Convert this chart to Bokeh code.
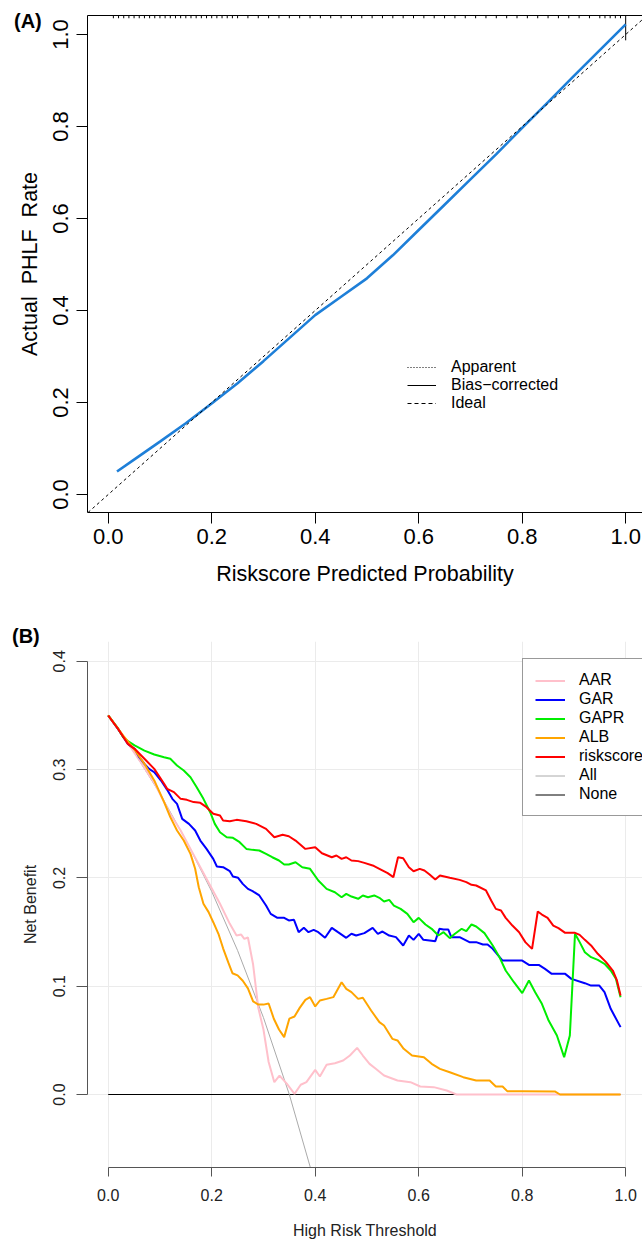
from bokeh.plotting import figure
from bokeh.layouts import column
from bokeh.models import (Range1d, FixedTicker, PrintfTickFormatter, LinearAxis,
                          Legend, LegendItem, Slope, Div)
from bokeh.embed import file_html
from bokeh.resources import INLINE

FONT = "Liberation Sans"
NAN = float("nan")

# ---------------- Panel A data ----------------
cal_x = [0.017, 0.05, 0.1, 0.15, 0.2, 0.25, 0.3, 0.35, 0.4, 0.45, 0.5, 0.55, 0.6, 0.65, 0.7,
         0.75, 0.8, 0.85, 0.9, 0.95, 1.0]
cal_y = [0.05, 0.076, 0.115, 0.155, 0.198, 0.242, 0.29, 0.34, 0.39, 0.43, 0.47, 0.52, 0.575,
         0.63, 0.685, 0.74, 0.797, 0.853, 0.91, 0.966, 1.022]
rug_x = [0.01, 0.02, 0.03, 0.04, 0.05, 0.06, 0.07, 0.08, 0.09, 0.10, 0.11, 0.12, 0.13, 0.14,
         0.15, 0.16, 0.17, 0.18, 0.19, 0.20, 0.21, 0.22, 0.23, 0.24, 0.25, 0.27, 0.29, 0.31,
         0.33, 0.35, 0.37, 0.39, 0.41, 0.43, 0.45, 0.47, 0.49, 0.51, 0.53, 0.55, 0.57, 0.59,
         0.61, 0.63, 0.65, 0.67, 0.69, 0.71, 0.73, 0.75, 0.77, 0.79, 0.81, 0.83, 0.85, 0.87,
         0.89, 0.91, 0.93, 0.95, 0.96, 0.97, 0.98, 0.99, 1.0]
rug_h = [0.006, 0.006, 0.006, 0.006, 0.006, 0.006, 0.006, 0.006, 0.006, 0.006, 0.006, 0.006,
         0.006, 0.006, 0.006, 0.006, 0.006, 0.006, 0.006, 0.006, 0.006, 0.006, 0.006, 0.006,
         0.006, 0.006, 0.006, 0.006, 0.006, 0.006, 0.006, 0.006, 0.006, 0.006, 0.006, 0.006,
         0.006, 0.006, 0.006, 0.006, 0.006, 0.006, 0.006, 0.006, 0.006, 0.006, 0.006, 0.006,
         0.006, 0.006, 0.006, 0.006, 0.006, 0.006, 0.006, 0.006, 0.006, 0.006, 0.006, 0.006,
         0.006, 0.006, 0.006, 0.006, 0.054]
ticks_A = [0.0, 0.2, 0.4, 0.6, 0.8, 1.0]
legend_A = ["Apparent", "Bias\u2212corrected", "Ideal"]

# ---------------- Panel B data (threshold, net benefit) ----------------
AAR = [(0, 0.35), (0.03, 0.33), (0.06, 0.309), (0.09, 0.287), (0.12, 0.259), (0.14, 0.2438),
       (0.159, 0.2268), (0.178, 0.2099), (0.197, 0.193), (0.216, 0.1761), (0.235, 0.1576),
       (0.248, 0.1468), (0.257, 0.1477), (0.263, 0.1437), (0.27, 0.145), (0.28, 0.12),
       (0.29, 0.08), (0.3, 0.06), (0.31, 0.03), (0.321, 0.0114), (0.331, 0.0175), (0.345, 0.01),
       (0.36, 0.0006), (0.372, 0.009), (0.383, 0.0114), (0.4, 0.0228), (0.409, 0.0166),
       (0.422, 0.0274), (0.438, 0.0289), (0.454, 0.0314), (0.467, 0.036), (0.481, 0.0431),
       (0.492, 0.036), (0.505, 0.0283), (0.517, 0.0237), (0.533, 0.0175), (0.559, 0.0129),
       (0.584, 0.0114), (0.603, 0.0074), (0.629, 0.0068), (0.654, 0.0037), (0.673, 0.0),
       (0.99, 0.0)]
GAR = [(0, 0.35), (0.019, 0.3376), (0.038, 0.3238), (0.051, 0.3192), (0.06, 0.3115),
       (0.07, 0.3053), (0.079, 0.3007), (0.089, 0.2976), (0.102, 0.2899), (0.114, 0.2813),
       (0.124, 0.273), (0.133, 0.2684), (0.143, 0.2545), (0.156, 0.2499), (0.168, 0.2438),
       (0.178, 0.2345), (0.19, 0.2268), (0.203, 0.2176), (0.21, 0.2105), (0.222, 0.2099),
       (0.235, 0.2062), (0.241, 0.2013), (0.251, 0.2001), (0.26, 0.1945), (0.27, 0.1899),
       (0.279, 0.1878), (0.292, 0.1838), (0.305, 0.1745), (0.314, 0.1668), (0.327, 0.1631),
       (0.34, 0.1631), (0.349, 0.1607), (0.359, 0.1613), (0.368, 0.1499), (0.378, 0.1539),
       (0.387, 0.1499), (0.397, 0.152), (0.406, 0.1499), (0.419, 0.1447), (0.432, 0.1539),
       (0.444, 0.1499), (0.46, 0.1447), (0.47, 0.1484), (0.479, 0.1468), (0.495, 0.149),
       (0.511, 0.1539), (0.521, 0.1484), (0.53, 0.1505), (0.543, 0.1468), (0.556, 0.1453),
       (0.57, 0.1376), (0.581, 0.1468), (0.59, 0.1428), (0.6, 0.1484), (0.609, 0.1428),
       (0.621, 0.1422), (0.632, 0.1416), (0.64, 0.153), (0.648, 0.1524), (0.657, 0.1524),
       (0.663, 0.1453), (0.679, 0.1453), (0.698, 0.1407), (0.711, 0.1407), (0.724, 0.1385),
       (0.733, 0.1385), (0.743, 0.1345), (0.762, 0.1237), (0.781, 0.1237), (0.8, 0.1237),
       (0.813, 0.1197), (0.832, 0.1197), (0.844, 0.116), (0.857, 0.1114), (0.883, 0.1114),
       (0.895, 0.1068), (0.921, 0.1028), (0.933, 0.1006), (0.949, 0.1006), (0.959, 0.0945),
       (0.971, 0.0791), (0.99, 0.0622)]
GAPR = [(0, 0.35), (0.019, 0.338), (0.029, 0.3299), (0.038, 0.3263), (0.051, 0.3223),
        (0.07, 0.3176), (0.089, 0.314), (0.108, 0.3115), (0.12, 0.31), (0.133, 0.3038),
        (0.146, 0.2992), (0.159, 0.293), (0.171, 0.2838), (0.184, 0.273), (0.197, 0.2607),
        (0.206, 0.2499), (0.216, 0.2422), (0.229, 0.2376), (0.241, 0.237), (0.254, 0.233),
        (0.267, 0.2268), (0.279, 0.2259), (0.292, 0.2253), (0.305, 0.2222), (0.317, 0.2191),
        (0.33, 0.2161), (0.34, 0.2124), (0.349, 0.2124), (0.362, 0.2145), (0.375, 0.2099),
        (0.39, 0.2084), (0.406, 0.1976), (0.422, 0.1899), (0.438, 0.1868), (0.451, 0.1822),
        (0.46, 0.1853), (0.47, 0.1828), (0.483, 0.1807), (0.492, 0.1838), (0.502, 0.1822),
        (0.514, 0.1838), (0.524, 0.1816), (0.533, 0.1782), (0.543, 0.1797), (0.552, 0.1745),
        (0.565, 0.1714), (0.578, 0.1668), (0.59, 0.1591), (0.6, 0.1631), (0.613, 0.157),
        (0.625, 0.153), (0.638, 0.1468), (0.648, 0.1499), (0.66, 0.1444), (0.67, 0.1484),
        (0.683, 0.153), (0.692, 0.1508), (0.702, 0.157), (0.711, 0.1551), (0.727, 0.149),
        (0.743, 0.1376), (0.756, 0.1268), (0.768, 0.1145), (0.784, 0.1037), (0.8, 0.0936),
        (0.813, 0.1053), (0.825, 0.0945), (0.838, 0.0837), (0.851, 0.0683), (0.867, 0.0545),
        (0.881, 0.0345), (0.892, 0.0545), (0.902, 0.1484), (0.911, 0.1407), (0.921, 0.1314),
        (0.933, 0.1268), (0.946, 0.1243), (0.959, 0.1207), (0.971, 0.1145), (0.981, 0.1068),
        (0.99, 0.0899)]
ALB = [(0, 0.35), (0.029, 0.3315), (0.051, 0.3183), (0.07, 0.3053), (0.089, 0.29),
       (0.108, 0.27), (0.12, 0.2561), (0.133, 0.2438), (0.146, 0.2345), (0.159, 0.2222),
       (0.168, 0.2084), (0.175, 0.1914), (0.184, 0.1761), (0.194, 0.1684), (0.203, 0.1591),
       (0.213, 0.1484), (0.222, 0.135), (0.232, 0.122), (0.24, 0.112), (0.25, 0.11),
       (0.26, 0.105), (0.27, 0.098), (0.28, 0.086), (0.29, 0.083), (0.3, 0.083), (0.31, 0.084),
       (0.32, 0.07), (0.33, 0.06), (0.34, 0.053), (0.35, 0.07), (0.36, 0.072), (0.37, 0.08),
       (0.381, 0.0874), (0.39, 0.0899), (0.4, 0.0813), (0.409, 0.0868), (0.422, 0.0883),
       (0.435, 0.0899), (0.451, 0.1037), (0.46, 0.0976), (0.47, 0.0945), (0.483, 0.0883),
       (0.492, 0.0893), (0.508, 0.0776), (0.524, 0.0668), (0.533, 0.0637), (0.549, 0.0514),
       (0.559, 0.0499), (0.571, 0.0422), (0.587, 0.036), (0.61, 0.0345), (0.625, 0.0283),
       (0.641, 0.0237), (0.66, 0.0206), (0.686, 0.016), (0.711, 0.0129), (0.737, 0.0129),
       (0.749, 0.0074), (0.762, 0.0074), (0.771, 0.0031), (0.8, 0.0031), (0.863, 0.0028),
       (0.873, 0.0), (0.99, 0.0)]
riskscore = [(0, 0.35), (0.019, 0.3376), (0.038, 0.3238), (0.051, 0.3192), (0.07, 0.31),
             (0.089, 0.3007), (0.108, 0.2869), (0.114, 0.2822), (0.127, 0.2792), (0.14, 0.273),
             (0.152, 0.2721), (0.165, 0.27), (0.178, 0.2693), (0.19, 0.2653), (0.203, 0.2592),
             (0.216, 0.2576), (0.222, 0.253), (0.235, 0.2524), (0.248, 0.2536), (0.267, 0.2524),
             (0.286, 0.2499), (0.305, 0.2453), (0.321, 0.2376), (0.337, 0.2398), (0.349, 0.2385),
             (0.362, 0.2345), (0.381, 0.2268), (0.40, 0.2284), (0.413, 0.2228), (0.432, 0.2191),
             (0.441, 0.2207), (0.451, 0.2176), (0.46, 0.2191), (0.47, 0.2161), (0.483, 0.2155),
             (0.495, 0.2139), (0.511, 0.2115), (0.524, 0.2084), (0.54, 0.2044), (0.551, 0.2007),
             (0.56, 0.2191), (0.57, 0.2182), (0.581, 0.2099), (0.59, 0.2062), (0.602, 0.2084),
             (0.611, 0.2068), (0.621, 0.2031), (0.632, 0.1985), (0.641, 0.2022), (0.66, 0.2001),
             (0.679, 0.1982), (0.692, 0.1961), (0.702, 0.1936), (0.711, 0.193), (0.73, 0.1884),
             (0.74, 0.1791), (0.749, 0.1714), (0.759, 0.1699), (0.768, 0.1631), (0.781, 0.156),
             (0.794, 0.1499), (0.806, 0.1407), (0.819, 0.1345), (0.83, 0.169), (0.838, 0.1662),
             (0.849, 0.1631), (0.86, 0.156), (0.87, 0.1536), (0.883, 0.1493), (0.902, 0.1493),
             (0.911, 0.1474), (0.921, 0.1428), (0.933, 0.1376), (0.946, 0.1299), (0.962, 0.1222),
             (0.975, 0.1145), (0.983, 0.1053), (0.99, 0.0914)]
ALL = [(0, 0.35), (0.05, 0.316), (0.1, 0.278), (0.15, 0.235), (0.2, 0.1875), (0.25, 0.133),
       (0.3, 0.071), (0.35, 0.0), (0.4, -0.083)]
NONE = [(0, 0.0), (0.99, 0.0)]
ticks_Bx = [0.0, 0.2, 0.4, 0.6, 0.8, 1.0]
ticks_By = [0.0, 0.1, 0.2, 0.3, 0.4]
series_B = [("AAR", AAR, "#FFC0CB", 2), ("GAR", GAR, "#0000FF", 2), ("GAPR", GAPR, "#00EE00", 2),
            ("ALB", ALB, "#FFA500", 2), ("riskscore", riskscore, "#FF0000", 2),
            ("All", ALL, "#AAAAAA", 1), ("None", NONE, "#000000", 1)]

# ================= Panel A =================
xa0, xa1, ya0, ya1 = -0.04, 1.0325, -0.039, 1.0413
pA = figure(width=642, height=600, x_range=Range1d(xa0, xa1), y_range=Range1d(ya0, ya1),
            output_backend="svg", toolbar_location=None,
            min_border_left=87, min_border_right=0, min_border_top=15, min_border_bottom=88)
pA.grid.visible = False
pA.outline_line_color = None
pA.background_fill_color = "white"
pA.border_fill_color = "white"

for ax in (pA.xaxis[0], pA.yaxis[0]):
    ax.ticker = FixedTicker(ticks=ticks_A)
    ax.formatter = PrintfTickFormatter(format="%.1f")
    ax.axis_line_color = "black"
    ax.major_tick_line_color = "black"
    ax.major_tick_out = 11
    ax.major_tick_in = 0
    ax.minor_tick_line_color = None
    ax.major_label_text_font = FONT
    ax.major_label_text_font_size = "22px"
    ax.major_label_text_color = "black"
    ax.axis_label_text_font = FONT
    ax.axis_label_text_font_size = "21.5px"
    ax.axis_label_text_font_style = "normal"
    ax.axis_label_text_color = "black"
pA.xaxis.axis_label = "Riskscore Predicted Probability"
pA.xaxis.major_label_standoff = 5
pA.xaxis.axis_label_standoff = 15
pA.yaxis.axis_label = "Actual\u00a0 PHLF\u00a0 Rate"
pA.yaxis.major_label_orientation = "vertical"
pA.yaxis.major_label_standoff = 8
pA.yaxis.axis_label_standoff = 9

top_axis = LinearAxis(ticker=FixedTicker(ticks=[]), axis_line_color="black",
                      major_tick_line_color=None, minor_tick_line_color=None,
                      major_label_text_font_size="0px")
pA.add_layout(top_axis, "above")

# rug of predicted probabilities along the top edge
pA.segment(x0=rug_x, x1=rug_x, y0=[ya1] * len(rug_x),
           y1=[ya1 - h for h in rug_h], line_color="black", line_width=1)

pA.add_layout(Slope(gradient=1, y_intercept=0, line_color="black", line_width=1,
                    line_dash="3 3"))
pA.line(cal_x, cal_y, line_color="#1E7FD8", line_width=2.6)

la1 = pA.line(x=[NAN], y=[NAN], line_color="black", line_width=1, line_dash="1 2")
la2 = pA.line(x=[NAN], y=[NAN], line_color="black", line_width=1)
la3 = pA.line(x=[NAN], y=[NAN], line_color="black", line_width=1, line_dash="4 3")
legA = Legend(items=[LegendItem(label=legend_A[0], renderers=[la1]),
                     LegendItem(label=legend_A[1], renderers=[la2]),
                     LegendItem(label=legend_A[2], renderers=[la3])],
              location=(320, 100), border_line_color=None, background_fill_alpha=0,
              padding=0, margin=0, spacing=0, glyph_height=16, glyph_width=29,
              label_height=16, label_standoff=15, label_text_font=FONT,
              label_text_font_size="16px", label_text_color="black")
pA.add_layout(legA)

# ================= Panel B =================
xb0, xb1, yb0, yb1 = -0.04, 1.0324, -0.0674, 0.4183
pB = figure(width=642, height=644, x_range=Range1d(xb0, xb1), y_range=Range1d(yb0, yb1),
            output_backend="svg", toolbar_location=None,
            min_border_left=79, min_border_right=0, min_border_top=41, min_border_bottom=77)
pB.outline_line_color = None
pB.background_fill_color = "white"
pB.border_fill_color = "white"
pB.xgrid.ticker = FixedTicker(ticks=ticks_Bx)
pB.ygrid.ticker = FixedTicker(ticks=ticks_By)
pB.grid.grid_line_color = "#EBEBEB"
pB.grid.grid_line_width = 1

for ax, tk in ((pB.xaxis[0], ticks_Bx), (pB.yaxis[0], ticks_By)):
    ax.ticker = FixedTicker(ticks=tk)
    ax.bounds = (tk[0], tk[-1])
    ax.formatter = PrintfTickFormatter(format="%.1f")
    ax.axis_line_color = "#555555"
    ax.major_tick_line_color = "#555555"
    ax.minor_tick_line_color = None
    ax.major_tick_in = 0
    ax.major_label_text_font = FONT
    ax.major_label_text_font_size = "16px"
    ax.major_label_text_color = "#222222"
    ax.axis_label_text_font = FONT
    ax.axis_label_text_font_size = "16px"
    ax.axis_label_text_font_style = "normal"
    ax.axis_label_text_color = "#222222"
pB.xaxis.axis_label = "High Risk Threshold"
pB.xaxis.major_tick_out = 9
pB.xaxis.major_label_standoff = 12
pB.xaxis.axis_label_standoff = 18
pB.yaxis.axis_label = "Net Benefit"
pB.yaxis.major_tick_out = 11
pB.yaxis.major_label_orientation = "vertical"
pB.yaxis.major_label_standoff = 11
pB.yaxis.axis_label_standoff = 12

# draw order: reference lines first, models on top
rend = {}
for name, pts, col, lw in [series_B[6], series_B[5]] + series_B[:5]:
    xs = [a for a, b in pts]
    ys = [b for a, b in pts]
    rend[name] = pB.line(xs, ys, line_color=col, line_width=lw)

legB = Legend(items=[LegendItem(label=n, renderers=[rend[n]]) for n, _, _, _ in series_B],
              location=(435, 351), border_line_color="#333333", border_line_width=1,
              background_fill_color="white", background_fill_alpha=1,
              padding=12, margin=0, spacing=1, glyph_height=17, glyph_width=30,
              label_height=17, label_standoff=14, label_text_font=FONT,
              label_text_font_size="16px", label_text_color="black")
pB.add_layout(legB)

# panel letters, positioned over the page corners
def panel_tag(txt, left, top):
    return Div(text=txt, margin=0,
               styles={"position": "absolute", "left": f"{left}px", "top": f"{top}px",
                       "z-index": "10", "font-family": FONT, "font-size": "20px",
                       "font-weight": "bold", "color": "black", "line-height": "23px"})

tagA = panel_tag("(A)", 14, 10)
tagB = panel_tag("(B)", 12, 625)

layout = column(pA, pB, tagA, tagB, spacing=0)
open("out.html", "w").write(file_html(layout, INLINE))
